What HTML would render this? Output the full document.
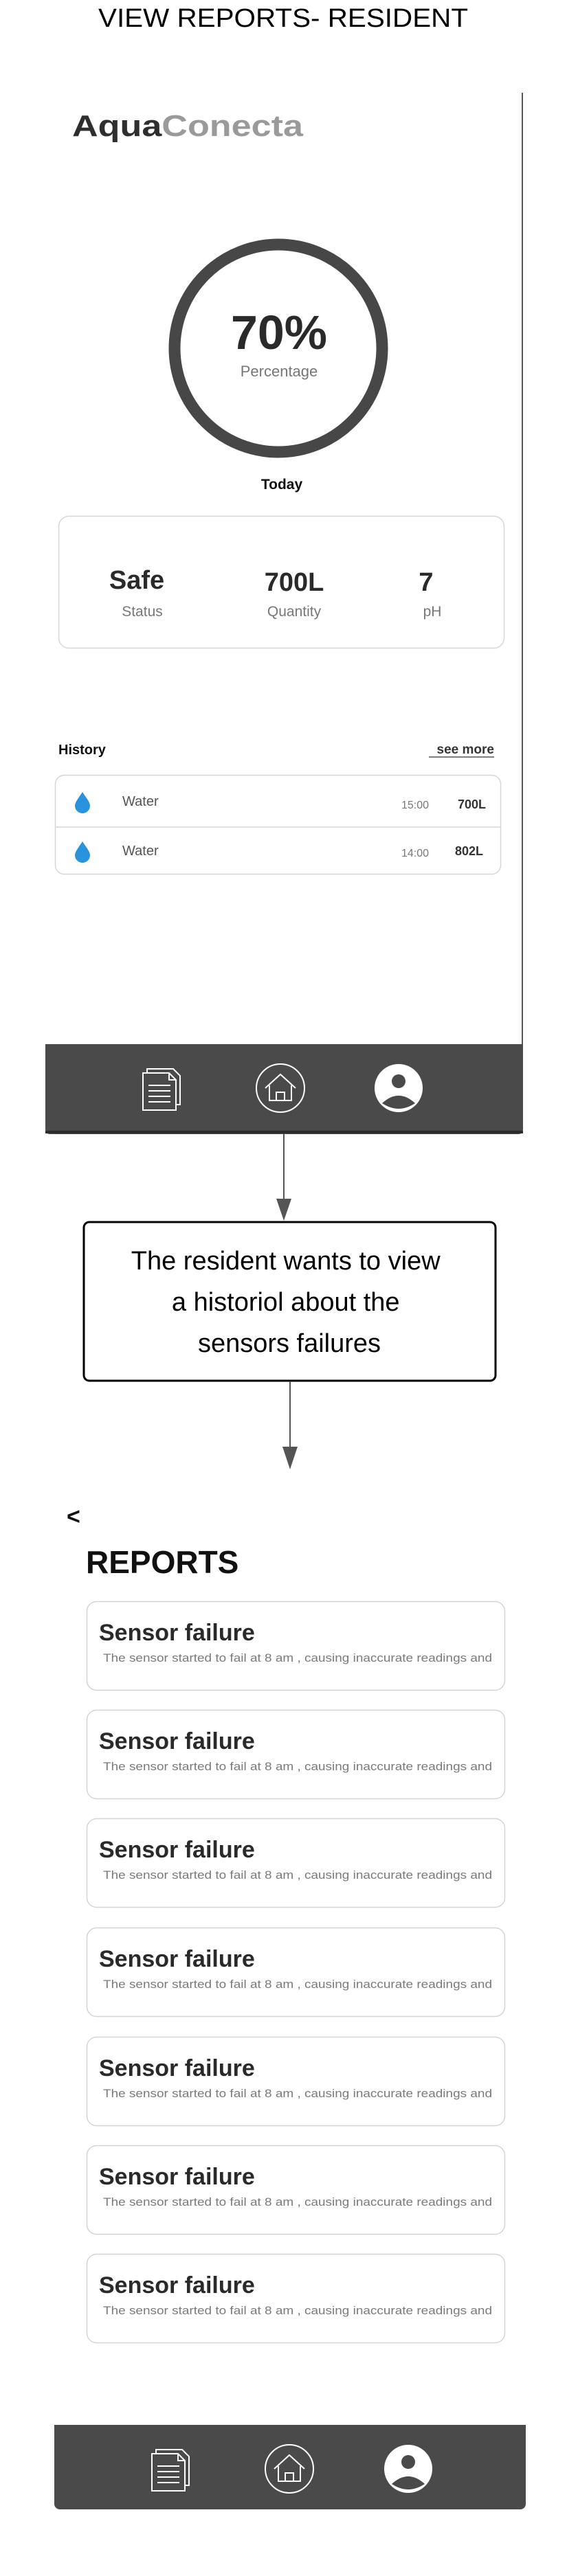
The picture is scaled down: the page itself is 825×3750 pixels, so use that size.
<!DOCTYPE html>
<html><head><meta charset="utf-8"><style>
html,body{margin:0;padding:0;background:#fff;}
svg{display:block;font-family:"Liberation Sans",sans-serif;}
</style></head><body>
<svg width="825" height="3750" viewBox="0 0 825 3750" xmlns="http://www.w3.org/2000/svg">
<defs>
<g id="doc" fill="none" stroke="#fff" stroke-width="2">
  <path d="M-22,-28 h38 l10,10 v42 h-48 z" fill="#4a4a4a"/>
  <path d="M-28,-22 h38 l10,10 v44 h-48 z" fill="#4a4a4a"/>
  <path d="M10,-22 v10 h10"/>
  <path d="M-20,-4 h32 M-20,4 h32 M-20,12 h32 M-20,20 h32"/>
</g>
<g id="home" fill="none" stroke="#fff" stroke-width="2">
  <circle cx="0" cy="0" r="35"/>
  <path d="M-22,0 L0,-20 L22,0 M-16,-4 v22 h32 v-22 M-6,18 v-12 h12 v12"/>
</g>
<g id="prof">
  <circle cx="0" cy="0" r="35" fill="#fff"/>
  <circle cx="0" cy="-10" r="10" fill="#4a4a4a"/>
  <path d="M-24,22 Q0,0 24,22 Q0,38 -24,22 z" fill="#4a4a4a"/>
</g>
<g id="drop"><path d="M0,-13 C6,-4 11,2 11,7 A11,11 0 0 1 -11,7 C-11,2 -6,-4 0,-13 z" fill="#2a93dd"/></g>
<g id="card">
  <rect x="126.5" y="0.5" width="608" height="129" rx="14" fill="#fff" stroke="#d4d4d4" stroke-width="1.5"/>
  <text x="144" y="57" font-size="34" font-weight="bold" fill="#2a2a2a">Sensor failure</text>
  <text x="150" y="88" font-size="16.5" fill="#7a7a7a" textLength="566" lengthAdjust="spacingAndGlyphs">The sensor started to fail at 8 am , causing inaccurate readings and</text>
</g>
</defs>

<text x="412" y="39" font-size="38" text-anchor="middle" fill="#000" textLength="538" lengthAdjust="spacingAndGlyphs">VIEW REPORTS- RESIDENT</text>

<line x1="760" y1="135" x2="760" y2="1522" stroke="#555" stroke-width="2"/>
<text x="105" y="198" font-size="44" font-weight="bold" textLength="336" lengthAdjust="spacingAndGlyphs"><tspan fill="#2f2f2f">Aqua</tspan><tspan fill="#9a9a9a">Conecta</tspan></text>

<circle cx="405" cy="507" r="151" fill="none" stroke="#474747" stroke-width="17"/>
<text x="406" y="508" font-size="70" font-weight="bold" fill="#2a2a2a" text-anchor="middle">70%</text>
<text x="406" y="548" font-size="22" fill="#777" text-anchor="middle">Percentage</text>
<text x="410" y="712" font-size="21" font-weight="bold" fill="#111" text-anchor="middle">Today</text>

<rect x="85.5" y="751.5" width="648" height="192" rx="15" fill="#fff" stroke="#d6d6d6" stroke-width="1.5"/>
<text x="199" y="857" font-size="38" font-weight="bold" fill="#2a2a2a" text-anchor="middle">Safe</text>
<text x="207" y="897" font-size="21" fill="#777" text-anchor="middle">Status</text>
<text x="428" y="860" font-size="38" font-weight="bold" fill="#2a2a2a" text-anchor="middle">700L</text>
<text x="428" y="897" font-size="21" fill="#777" text-anchor="middle">Quantity</text>
<text x="620" y="860" font-size="38" font-weight="bold" fill="#2a2a2a" text-anchor="middle">7</text>
<text x="629" y="897" font-size="21" fill="#777" text-anchor="middle">pH</text>

<text x="85" y="1098" font-size="20" font-weight="bold" fill="#111">History</text>
<text x="719" y="1097" font-size="19" font-weight="bold" fill="#333" text-anchor="end">see more</text>
<line x1="624" y1="1102" x2="719" y2="1102" stroke="#555" stroke-width="1.5"/>

<rect x="80.5" y="1128.5" width="648" height="144" rx="13" fill="#fff" stroke="#d6d6d6" stroke-width="1.5"/>
<line x1="81" y1="1204" x2="728" y2="1204" stroke="#d6d6d6" stroke-width="1.5"/>
<use href="#drop" x="120" y="1166"/>
<use href="#drop" x="120" y="1238"/>
<text x="178" y="1173" font-size="20" fill="#555">Water</text>
<text x="178" y="1245" font-size="20" fill="#555">Water</text>
<text x="584" y="1177" font-size="16" fill="#777">15:00</text>
<text x="584" y="1247" font-size="16" fill="#777">14:00</text>
<text x="707" y="1177" font-size="18" font-weight="bold" fill="#333" text-anchor="end">700L</text>
<text x="703" y="1245" font-size="18" font-weight="bold" fill="#333" text-anchor="end">802L</text>

<path d="M66,1520 H761 V1644 Q761,1651 754,1651 H73 Q66,1651 66,1644 Z" fill="#4a4a4a"/>
<rect x="66" y="1646" width="695" height="4" fill="#2c2c2c"/>
<use href="#doc" x="236" y="1584"/>
<use href="#home" x="408" y="1584"/>
<use href="#prof" x="580" y="1584"/>

<line x1="413" y1="1651" x2="413" y2="1760" stroke="#555" stroke-width="2"/>
<path d="M402,1745 L424,1745 L413,1777 Z" fill="#555"/>
<rect x="122" y="1779" width="599" height="231" rx="8" fill="#fff" stroke="#000" stroke-width="3"/>
<text font-size="38" fill="#000" text-anchor="middle">
<tspan x="421" y="1848">The resident wants to view</tspan>
<tspan x="421" y="1908">a historiol about the</tspan>
<tspan x="421" y="1968">sensors failures</tspan>
</text>

<line x1="422" y1="2011" x2="422" y2="2112" stroke="#555" stroke-width="2"/>
<path d="M411,2106 L433,2106 L422,2139 Z" fill="#555"/>

<text x="97" y="2219" font-size="34" font-weight="bold" fill="#111">&lt;</text>
<text x="125" y="2290" font-size="46" font-weight="bold" fill="#111">REPORTS</text>

<use href="#card" y="2331"/>
<use href="#card" y="2489"/>
<use href="#card" y="2647"/>
<use href="#card" y="2806"/>
<use href="#card" y="2965"/>
<use href="#card" y="3123"/>
<use href="#card" y="3281"/>

<rect x="79" y="3530" width="686" height="123" rx="8" fill="#4a4a4a"/>
<rect x="79" y="3530" width="686" height="10" fill="#4a4a4a"/>
<use href="#doc" x="249" y="3594"/>
<use href="#home" x="421" y="3594"/>
<use href="#prof" x="594" y="3594"/>
</svg>
</body></html>
